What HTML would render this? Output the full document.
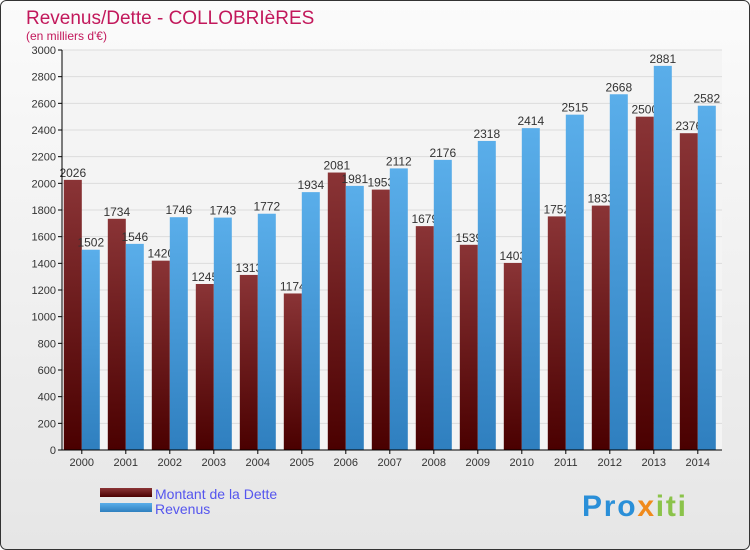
<!DOCTYPE html>
<html><head><meta charset="utf-8"><style>
body{margin:0;background:#fff}
svg{display:block;font-family:"Liberation Sans",sans-serif}
</style></head><body>
<svg id="c" width="750" height="550" xmlns="http://www.w3.org/2000/svg">
<defs>
<linearGradient id="bg" x1="0" y1="0" x2="0" y2="1"><stop offset="0" stop-color="#fbfbfb"/><stop offset="1" stop-color="#e6e6e6"/></linearGradient>
<linearGradient id="gd" x1="0" y1="0" x2="0" y2="1"><stop offset="0" stop-color="#8a3436"/><stop offset="1" stop-color="#4a0000"/></linearGradient>
<linearGradient id="gr" x1="0" y1="0" x2="0" y2="1"><stop offset="0" stop-color="#5aaeea"/><stop offset="1" stop-color="#2f7fbf"/></linearGradient>
</defs>
<rect x="0.5" y="0.5" width="749" height="549" rx="6" fill="url(#bg)" stroke="#333"/>
<text x="26" y="24" font-size="19" fill="#c2185b">Revenus/Dette - COLLOBRIèRES</text>
<text x="26" y="40" font-size="12" fill="#c2185b">(en milliers d'€)</text>
<g id="grid"></g><g id="bars"></g><g id="axes"></g>
<g>
<rect x="100" y="488" width="52" height="9" fill="url(#gd)"/>
<text x="155" y="499" font-size="14" fill="#5555ee">Montant de la Dette</text>
<rect x="100" y="503" width="52" height="9" fill="url(#gr)"/>
<text x="155" y="514" font-size="14" fill="#5555ee">Revenus</text>
</g>
<text x="582" y="516" font-size="30" font-weight="bold" textLength="104"><tspan fill="#2a8fd8">Pro</tspan><tspan fill="#f08a1c">x</tspan><tspan fill="#8bc34a">iti</tspan></text>
</svg>
<script>
const years=["2000","2001","2002","2003","2004","2005","2006","2007","2008","2009","2010","2011","2012","2013","2014"];
const dette=[2026,1734,1420,1245,1313,1174,2081,1953,1679,1539,1403,1752,1833,2500,2376];
const revenus=[1502,1546,1746,1743,1772,1934,1981,2112,2176,2318,2414,2515,2668,2881,2582];
const ticks=[0,200,400,600,800,1000,1200,1400,1600,1800,2000,2200,2400,2600,2800,3000];
const NS="http://www.w3.org/2000/svg";
const y0=450,yTop=50,vMax=3000,xL=62,xR=722;
const ys=v=>y0-(v/vMax)*(y0-yTop);
const step=(xR-xL)/years.length;
const xc=i=>xL+step*(i+0.45);
function mk(t,a,p){const e=document.createElementNS(NS,t);for(const k in a)e.setAttribute(k,a[k]);p.appendChild(e);return e;}
const grid=document.getElementById('grid'),bars=document.getElementById('bars'),axes=document.getElementById('axes');
mk('rect',{x:xL,y:yTop,width:xR-xL,height:y0-yTop,fill:'#f4f4f4'},grid);
ticks.forEach(t=>{
 const l=mk('line',{x1:xL,x2:xR,y1:ys(t),y2:ys(t),stroke:'#dcdcdc'},grid);
 
 
 mk('line',{x1:xL-4,x2:xL,y1:ys(t),y2:ys(t),stroke:'#000'},axes);
 const tx=mk('text',{x:xL-6,y:ys(t)+4,'font-size':11,'text-anchor':'end',fill:'#333'},axes);
 tx.textContent=t;
 
 
});
mk('line',{x1:xL,x2:xL,y1:yTop,y2:y0,stroke:'#000'},axes);
mk('line',{x1:xL,x2:xR,y1:y0,y2:y0,stroke:'#000'},axes);
const bw=18;
years.forEach((yr,i)=>{
 const c=xc(i);
 const db=mk('rect',{x:c-bw,y:ys(dette[i]),width:bw,height:y0-ys(dette[i]),fill:'url(#gd)'},bars);
 
 
 const dl=mk('text',{x:c-bw/2,y:ys(dette[i])-3,'font-size':12,'text-anchor':'middle',fill:'#333'},bars);
 dl.textContent=dette[i];
 
 
 const rb=mk('rect',{x:c,y:ys(revenus[i]),width:bw,height:y0-ys(revenus[i]),fill:'url(#gr)'},bars);
 
 
 const rl=mk('text',{x:c+bw/2,y:ys(revenus[i])-3,'font-size':12,'text-anchor':'middle',fill:'#333'},bars);
 rl.textContent=revenus[i];
 
 
 mk('line',{x1:c,x2:c,y1:y0,y2:y0+4,stroke:'#000'},axes);
 const xt=mk('text',{x:c,y:y0+16,'font-size':11,'text-anchor':'middle',fill:'#333'},axes);
 xt.textContent=yr;
 
 
});
</script>
</body></html>
